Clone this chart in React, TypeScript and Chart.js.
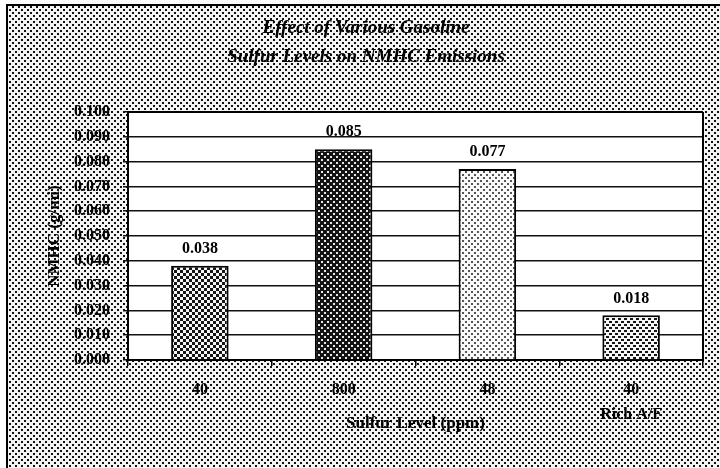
import React, { useEffect, useRef } from "react";
import { Chart, registerables } from "chart.js";

Chart.register(...registerables);

// ---- data ----
const categories: (string | string[])[] = ["40", "800", "48", ["40", "Rich A/F"]];
const nmhcValues = [0.038, 0.085, 0.077, 0.018];
const valueLabels = ["0.038", "0.085", "0.077", "0.018"];
const yMin = 0;
const yMax = 0.1;
const yStep = 0.01;
const titleLines = ["Effect of Various Gasoline", "Sulfur Levels on NMHC Emissions"];
const xTitle = "Sulfur Level (ppm)";
const yTitle = "NMHC (g/mi)";

const SERIF = "'Liberation Serif', 'Times New Roman', 'DejaVu Serif', serif";

type Cell = [number, number, number, number];

function makePattern(
  ctx: CanvasRenderingContext2D,
  size: number,
  base: string,
  ink: string,
  cells: Cell[]
): CanvasPattern | string {
  const tile = document.createElement("canvas");
  tile.width = size;
  tile.height = size;
  const t = tile.getContext("2d");
  if (!t) return base;
  t.fillStyle = base;
  t.fillRect(0, 0, size, size);
  t.fillStyle = ink;
  cells.forEach(([x, y, w, h]) => t.fillRect(x, y, w, h));
  return ctx.createPattern(tile, "repeat") || base;
}

export default function App() {
  const canvasRef = useRef<HTMLCanvasElement | null>(null);

  useEffect(() => {
    document.body.style.margin = "0";
    const canvas = canvasRef.current;
    if (!canvas) return;
    const ctx = canvas.getContext("2d");
    if (!ctx) return;

    const bgPattern = makePattern(ctx, 6, "#f4f4f4", "#111", [
      [0, 0, 2, 2],
      [3, 3, 2, 2],
    ]);
    const barFills = [
      makePattern(ctx, 6, "#f6f6f6", "#151515", [
        [0, 0, 3, 3],
        [3, 3, 3, 3],
      ]),
      makePattern(ctx, 6, "#141414", "#e8e8e8", [
        [0, 0, 2, 2],
        [3, 3, 2, 2],
      ]),
      makePattern(ctx, 6, "#fafafa", "#555", [
        [0, 0, 2, 2],
        [3, 3, 2, 2],
      ]),
      makePattern(ctx, 6, "#f6f6f6", "#151515", [
        [0, 0, 3, 2],
        [3, 3, 3, 2],
      ]),
    ];

    const decorPlugin = {
      id: "decor",
      beforeDraw(chart: any) {
        const { ctx: c, width, height, chartArea } = chart;
        c.save();
        c.fillStyle = "#ffffff";
        c.fillRect(0, 0, width, height);
        c.fillStyle = bgPattern;
        c.fillRect(7, 5, width - 7, height - 5);
        c.strokeStyle = "#000";
        c.lineWidth = 2;
        c.beginPath();
        c.moveTo(7, height);
        c.lineTo(7, 5);
        c.lineTo(width, 5);
        c.stroke();
        c.fillStyle = "#ffffff";
        c.fillRect(chartArea.left, chartArea.top, chartArea.width, chartArea.height);
        c.restore();
      },
      afterDatasetsDraw(chart: any) {
        const { ctx: c, chartArea } = chart;
        c.save();
        c.strokeStyle = "#000";
        c.lineWidth = 2;
        c.beginPath();
        c.moveTo(chartArea.right, chartArea.top);
        c.lineTo(chartArea.right, chartArea.bottom);
        c.moveTo(chartArea.left, chartArea.top);
        c.lineTo(chartArea.right, chartArea.top);
        c.stroke();
        const meta = chart.getDatasetMeta(0);
        c.fillStyle = "#000";
        c.font = `bold 16px ${SERIF}`;
        c.textAlign = "center";
        c.textBaseline = "middle";
        meta.data.forEach((el: any, i: number) => {
          c.fillText(valueLabels[i], el.x, el.y - 17);
        });
        c.restore();
      },
    };

    const chart = new Chart(canvas, {
      type: "bar",
      data: {
        labels: categories,
        datasets: [
          {
            data: nmhcValues,
            backgroundColor: barFills as any,
            borderColor: "#000",
            borderWidth: 2,
            barPercentage: 0.4,
            categoryPercentage: 1,
          },
        ],
      },
      options: {
        responsive: false,
        animation: false,
        devicePixelRatio: 1,
        layout: { padding: { left: 29, right: 17, top: 0, bottom: 0 } },
        plugins: {
          legend: { display: false },
          tooltip: { enabled: false },
          title: {
            display: true,
            text: titleLines,
            color: "#000",
            font: { family: SERIF, size: 19, weight: "bold", style: "italic", lineHeight: 29 / 19 },
            padding: { top: 13.5, bottom: 40.5 },
          },
        },
        scales: {
          x: {
            offset: true,
            grid: {
              display: true,
              drawOnChartArea: false,
              offset: true,
              tickLength: 6,
              color: "#000",
              lineWidth: 1.5,
            },
            border: { display: true, color: "#000", width: 2 },
            ticks: {
              color: "#000",
              padding: 11.5,
              maxRotation: 0,
              autoSkip: false,
              font: { family: SERIF, size: 16, weight: "bold", lineHeight: 25 / 16 },
            },
            title: {
              display: true,
              text: xTitle,
              color: "#000",
              font: { family: SERIF, size: 17, weight: "bold", lineHeight: 1.2 },
              padding: { top: 0, bottom: 33.8 },
            },
            afterFit: (scale: any) => {
              scale.height = 108;
            },
          },
          y: {
            min: yMin,
            max: yMax,
            grid: {
              color: "#111",
              lineWidth: 1.5,
              tickLength: 5,
            },
            border: { display: true, color: "#000", width: 2 },
            ticks: {
              stepSize: yStep,
              color: "#000",
              padding: 13,
              font: { family: SERIF, size: 16, weight: "bold" },
              callback: (v: any) => Number(v).toFixed(3),
            },
            title: {
              display: true,
              text: yTitle,
              color: "#000",
              font: { family: SERIF, size: 17, weight: "bold", lineHeight: 1.2 },
              padding: { top: 15.8, bottom: 0 },
            },
            afterFit: (scale: any) => {
              scale.width = 99;
            },
          },
        },
      },
      plugins: [decorPlugin],
    });

    return () => {
      chart.destroy();
    };
  }, []);

  return (
    <div style={{ width: 720, height: 468 }}>
      <canvas ref={canvasRef} width={720} height={468} style={{ display: "block", width: 720, height: 468 }} />
    </div>
  );
}
